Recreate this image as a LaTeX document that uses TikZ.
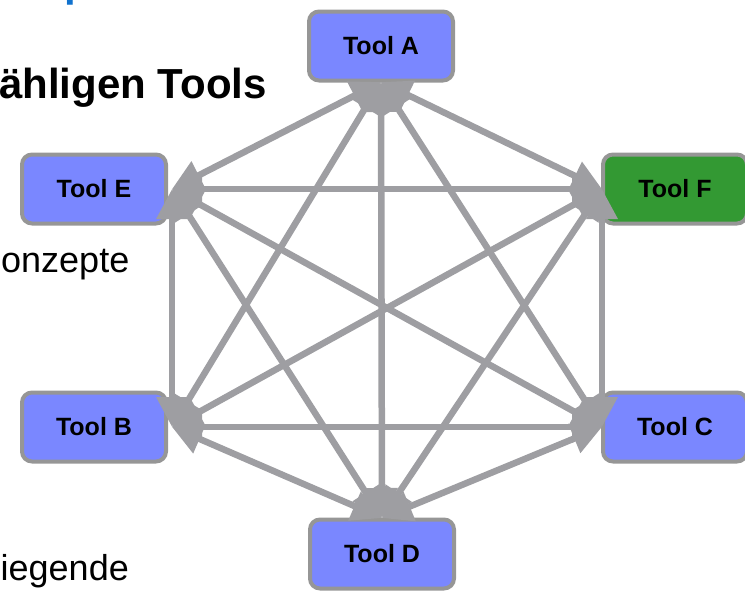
\documentclass[tikz,border=0pt]{standalone}
\usepackage{fontspec}
\setmainfont{Liberation Sans}
\usepackage{tikz}
\usetikzlibrary{arrows.meta}
\usepackage{xcolor}
\definecolor{toolblue}{RGB}{122,135,255}
\definecolor{toolgreen}{RGB}{51,153,51}
\definecolor{edgegray}{RGB}{158,158,162}
\definecolor{framegray}{RGB}{150,150,150}
\definecolor{titleblue}{RGB}{16,114,206}

\begin{document}
\begin{tikzpicture}[
                      x = 1pt,
                      y = -1pt,
            tool/.style = {draw=framegray, line width=4pt, rounded corners=10pt,
                           fill=toolblue, minimum width=144pt, minimum height=69pt,
                           inner sep=0pt, outer sep=0pt,
                           font=\fontsize{25}{30}\selectfont\bfseries},
            link/.style = {draw=edgegray, line width=6.5pt, <->,
                           >={Triangle[length=30pt,width=30pt]}},
       slidetext/.style = {inner sep=0pt, anchor=base west,
                           font=\fontsize{36}{43}\selectfont},
                     ]
\useasboundingbox (0,0) rectangle (745,592);

% cut-off slide text
\node[inner sep=0pt, anchor=base west, text=titleblue,
      font=\fontsize{42}{50}\selectfont\bfseries] (titlep) at (64.5,-4) {p};
\node[inner sep=0pt, anchor=base east,
      font=\fontsize{42}{50}\selectfont\bfseries] (heading) at (267,98) {ähligen Tools};
\node[slidetext] (konzepte) at (1,272) {onzepte};
\node[slidetext] (liegende) at (0.5,580) {iegende};

% tools
\node[tool] (A) at (381,46) {Tool A};
\node[tool] (E) at (94,189) {Tool E};
\node[tool, fill=toolgreen] (F) at (675,189) {Tool F};
\node[tool] (B) at (94,427) {Tool B};
\node[tool] (C) at (675,427) {Tool C};
\node[tool] (D) at (382,554) {Tool D};

\coordinate (pA) at ([yshift=-1.5pt]A.south);
\coordinate (pD) at ([yshift=1.5pt]D.north);
\coordinate (pE) at ([xshift=6pt]E.east);
\coordinate (pB) at ([xshift=6pt]B.east);
\coordinate (pF) at ([xshift=-1pt]F.west);
\coordinate (pC) at ([xshift=-1pt]C.west);

% every tool talks to every other tool
\draw[link] (pA) -- (pE);
\draw[link] (pA) -- (pF);
\draw[link] (pA) -- (pB);
\draw[link] (pA) -- (pC);
\draw[link] (pA) -- (pD);
\draw[link] (pE) -- (pF);
\draw[link] (pE) -- (pB);
\draw[link] (pE) -- (pC);
\draw[link] (pE) -- (pD);
\draw[link] (pF) -- (pB);
\draw[link] (pF) -- (pC);
\draw[link] (pF) -- (pD);
\draw[link] (pB) -- (pC);
\draw[link] (pB) -- (pD);
\draw[link] (pC) -- (pD);
\end{tikzpicture}
\end{document}
